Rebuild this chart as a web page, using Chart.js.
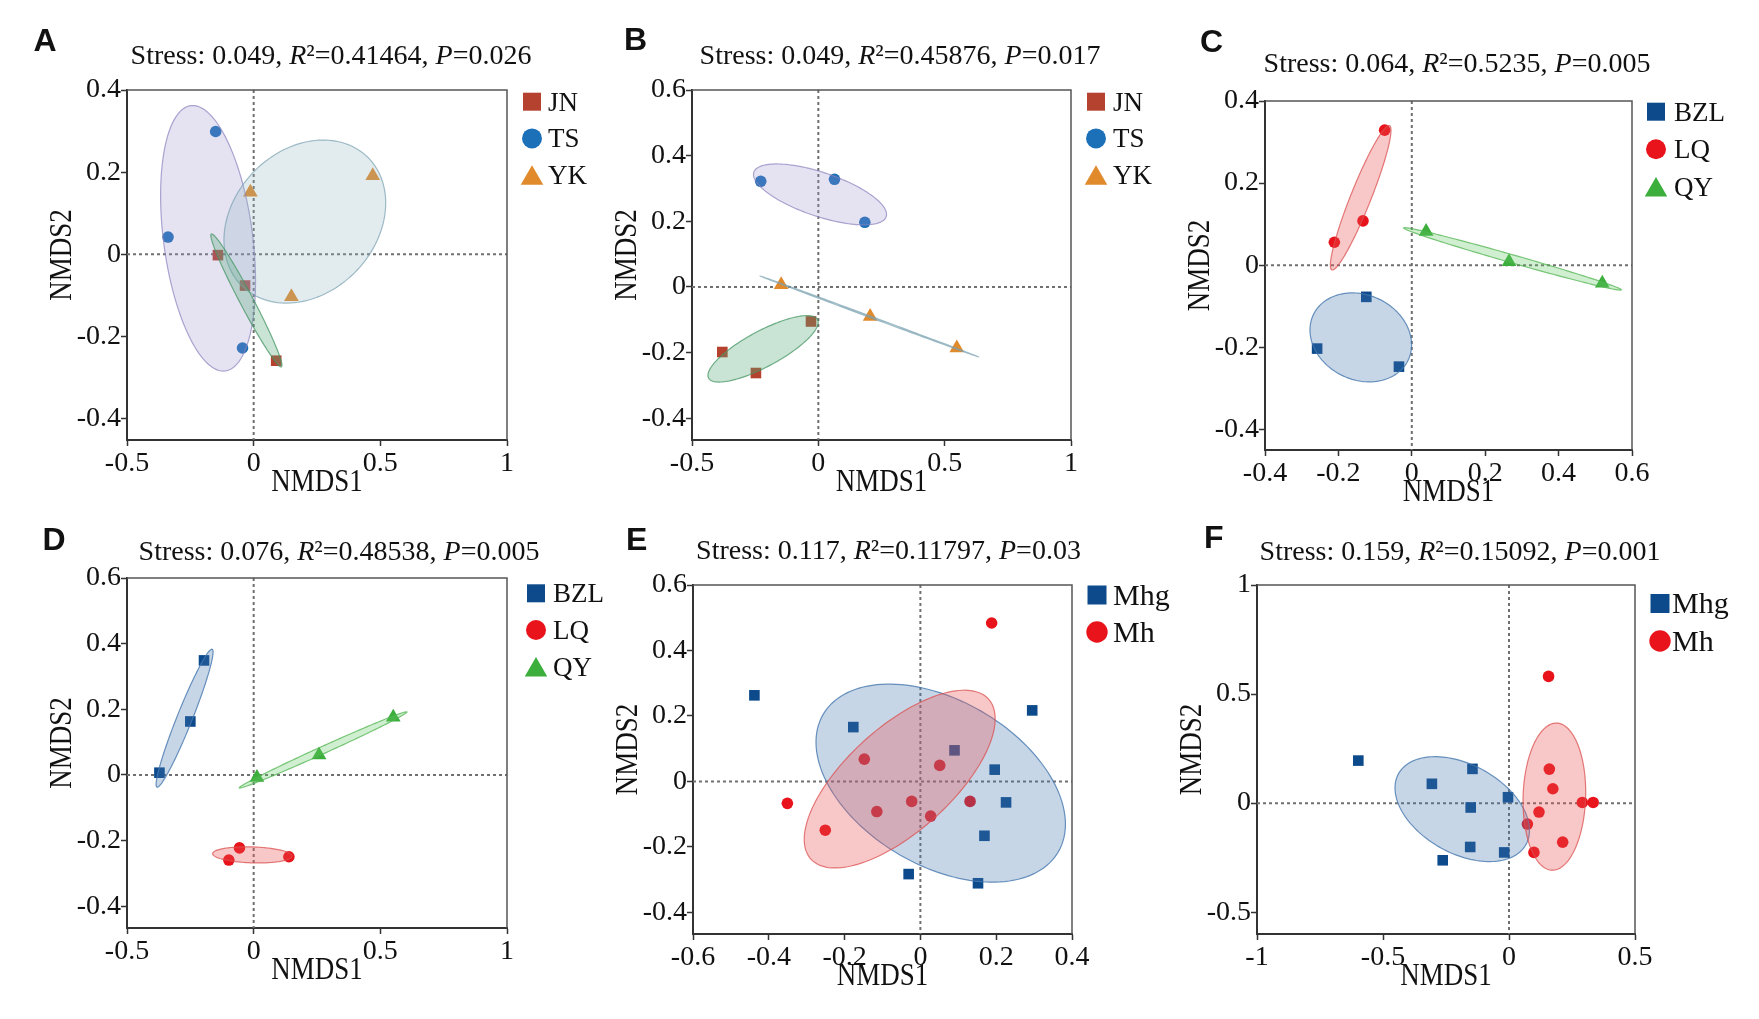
<!DOCTYPE html>
<html>
<head>
<meta charset="utf-8">
<script src="https://cdn.jsdelivr.net/npm/chart.js@4.4.1/dist/chart.umd.min.js"></script>
<style>
  html, body { margin: 0; padding: 0; background: #fff; width: 1759px; height: 1019px; overflow: hidden; position: relative; }
</style>
</head>
<body>
<script>
// ---- groups ----
const groupsAB = ['JN', 'TS', 'YK'];
const groupsCD = ['BZL', 'LQ', 'QY'];
const groupsEF = ['Mhg', 'Mh'];

// ---- sample scores [NMDS1, NMDS2] ----
const ptsA_JN = [[-0.141, -0.002], [-0.034, -0.076], [0.089, -0.259]];
const ptsA_TS = [[-0.150, 0.299], [-0.338, 0.042], [-0.044, -0.228]];
const ptsA_YK = [[-0.013, 0.151], [0.470, 0.191], [0.149, -0.103]];

const ptsB_JN = [[-0.029, -0.105], [-0.380, -0.198], [-0.247, -0.262]];
const ptsB_TS = [[-0.228, 0.322], [0.064, 0.328], [0.184, 0.197]];
const ptsB_YK = [[-0.147, 0.007], [0.205, -0.090], [0.548, -0.186]];

const ptsC_BZL = [[-0.124, -0.077], [-0.258, -0.203], [-0.035, -0.247]];
const ptsC_LQ = [[-0.074, 0.329], [-0.133, 0.108], [-0.211, 0.056]];
const ptsC_QY = [[0.039, 0.082], [0.265, 0.0085], [0.519, -0.044]];

const ptsD_BZL = [[-0.196, 0.349], [-0.250, 0.163], [-0.372, 0.007]];
const ptsD_LQ = [[-0.056, -0.222], [-0.098, -0.259], [0.139, -0.249]];
const ptsD_QY = [[0.013, -0.008], [0.258, 0.061], [0.551, 0.176]];

const ptsE_Mhg = [[-0.438, 0.263], [-0.177, 0.166], [0.090, 0.095], [0.295, 0.217], [0.196, 0.036],
                  [0.226, -0.064], [0.169, -0.166], [-0.031, -0.283], [0.152, -0.311]];
const ptsE_Mh = [[0.188, 0.484], [-0.351, -0.067], [-0.251, -0.149], [-0.148, 0.068], [-0.115, -0.092],
                 [-0.023, -0.061], [0.027, -0.106], [0.051, 0.049], [0.131, -0.061]];

const ptsF_Mhg = [[-0.598, 0.195], [-0.306, 0.0885], [-0.145, 0.157], [-0.004, 0.027], [-0.152, -0.020],
                  [-0.154, -0.201], [-0.019, -0.226], [-0.263, -0.262]];
const ptsF_Mh = [[0.157, 0.581], [0.160, 0.156], [0.174, 0.066], [0.291, 0.003], [0.334, 0.003],
                 [0.119, -0.041], [0.073, -0.096], [0.213, -0.179], [0.099, -0.226]];

// ---- group ellipses: centre, end of one axis, end of the other axis (data units) ----
const ellA_JN = [-0.0287, -0.1123, -0.167, 0.0495, -0.0047, -0.1054];
const ellA_TS = [-0.180, 0.039, -0.247, 0.362, -0.005, 0.051];
const ellA_YK = [0.202, 0.0797, 0.417, 0.253, 0.438, -0.017];

const ellB_JN = [-0.2187, -0.1883, -0.004, -0.098, -0.180, -0.234];
const ellB_TS = [0.0067, 0.282, 0.268, 0.213, 0.0395, 0.344];
const ellB_YK = [0.202, -0.0897, 0.631, -0.212, 0.203, -0.0878];

const ellC_BZL = [-0.139, -0.1757, -0.022, -0.248, -0.065, -0.095];
const ellC_LQ = [-0.1393, 0.1643, -0.061, 0.340, -0.113, 0.1565];
const ellC_QY = [0.2743, 0.0155, 0.571, -0.060, 0.278, 0.0248];

const ellD_BZL = [-0.2727, 0.173, -0.164, 0.383, -0.244, 0.166];
const ellD_LQ = [-0.005, -0.2433, 0.152, -0.247, -0.005, -0.219];
const ellD_QY = [0.274, 0.0763, 0.605, 0.192, 0.267, 0.086];

const ellE_Mhg = [0.0536, -0.0052, 0.354, -0.232, 0.188, 0.195];
const ellE_Mh = [-0.0546, 0.0072, 0.175, 0.257, 0.049, -0.099];

const ellF_Mhg = [-0.1855, -0.0275, 0.060, -0.203, -0.081, 0.137];
const ellF_Mh = [0.18, 0.0297, 0.189, 0.367, 0.304, 0.026];

// ---- statistics in the titles ----
const stressVals = ['0.049', '0.049', '0.064', '0.076', '0.117', '0.159'];
const r2Vals = ['0.41464', '0.45876', '0.5235', '0.48538', '0.11797', '0.15092'];
const pVals = ['0.026', '0.017', '0.005', '0.005', '0.03', '0.001'];

// ---- axes ----
const xRangeAB = [-0.5, 1];
const xTicksAB = [-0.5, 0, 0.5, 1];
const yRangeA = [-0.452, 0.4];
const yTicksA = [-0.4, -0.2, 0, 0.2, 0.4];
const yRangeB = [-0.466, 0.6];
const yTicksB = [-0.4, -0.2, 0, 0.2, 0.4, 0.6];
const xRangeC = [-0.4, 0.6];
const xTicksC = [-0.4, -0.2, 0, 0.2, 0.4, 0.6];
const yRangeC = [-0.45, 0.4];
const yTicksC = [-0.4, -0.2, 0, 0.2, 0.4];
const yRangeD = [-0.466, 0.6];
const yTicksD = [-0.4, -0.2, 0, 0.2, 0.4, 0.6];
const xRangeE = [-0.6, 0.4];
const xTicksE = [-0.6, -0.4, -0.2, 0, 0.2, 0.4];
const yRangeE = [-0.466, 0.6];
const yTicksE = [-0.4, -0.2, 0, 0.2, 0.4, 0.6];
const xRangeF = [-1, 0.5];
const xTicksF = [-1, -0.5, 0, 0.5];
const yRangeF = [-0.6, 1];
const yTicksF = [-0.5, 0, 0.5, 1];

// styles per group
const styles = {
  JN:  { shape: 'rect',     color: '#B5412F', fill: 'rgba(88,170,120,0.32)',  line: 'rgba(70,150,100,0.75)' },
  TS:  { shape: 'circle',   color: '#1B70B7', fill: 'rgba(150,140,205,0.25)', line: 'rgba(140,130,190,0.7)' },
  YK:  { shape: 'triangle', color: '#E08A2C', fill: 'rgba(140,178,190,0.25)', line: 'rgba(120,160,175,0.7)' },
  BZL: { shape: 'rect',     color: '#0C4A8B', fill: 'rgba(70,120,175,0.3)',   line: 'rgba(70,120,175,0.8)' },
  LQ:  { shape: 'circle',   color: '#E8131B', fill: 'rgba(232,85,85,0.32)',   line: 'rgba(220,80,80,0.75)' },
  QY:  { shape: 'triangle', color: '#3BAE3C', fill: 'rgba(100,200,100,0.3)',  line: 'rgba(80,180,80,0.75)' },
  Mhg: { shape: 'rect',     color: '#0C4A8B', fill: 'rgba(70,120,175,0.3)',   line: 'rgba(70,120,175,0.8)' },
  Mh:  { shape: 'circle',   color: '#E8131B', fill: 'rgba(232,85,85,0.32)',   line: 'rgba(220,80,80,0.75)' }
};
const pointSize = { rect: 7.5, circle: 5.8, triangle: 8.5 };

// panel layout (page pixels): plot area, title centre/baseline, letter, legend
const panels = [
  { key: 'A', area: [127, 90, 507, 440], xr: xRangeAB, yr: yRangeA, xt: xTicksAB, yt: yTicksA, groups: groupsAB,
    pts: [ptsA_JN, ptsA_TS, ptsA_YK], ells: [['TS', ellA_TS], ['YK', ellA_YK], ['JN', ellA_JN]],
    title: [331, 64], letter: [33.5, 50.5], leg: [532, 548, 101.7, 36.7, 27] },
  { key: 'B', area: [692, 90, 1071, 440], xr: xRangeAB, yr: yRangeB, xt: xTicksAB, yt: yTicksB, groups: groupsAB,
    pts: [ptsB_JN, ptsB_TS, ptsB_YK], ells: [['TS', ellB_TS], ['YK', ellB_YK], ['JN', ellB_JN]],
    title: [900, 64], letter: [624, 50], leg: [1096, 1113, 101.7, 36.7, 27] },
  { key: 'C', area: [1265, 101, 1632, 450], xr: xRangeC, yr: yRangeC, xt: xTicksC, yt: yTicksC, groups: groupsCD,
    pts: [ptsC_BZL, ptsC_LQ, ptsC_QY], ells: [['BZL', ellC_BZL], ['LQ', ellC_LQ], ['QY', ellC_QY]],
    title: [1457, 72], letter: [1200, 52], leg: [1656, 1674, 111.7, 37.5, 27] },
  { key: 'D', area: [127, 578, 507, 928], xr: xRangeAB, yr: yRangeD, xt: xTicksAB, yt: yTicksD, groups: groupsCD,
    pts: [ptsD_BZL, ptsD_LQ, ptsD_QY], ells: [['BZL', ellD_BZL], ['LQ', ellD_LQ], ['QY', ellD_QY]],
    title: [339, 560], letter: [42.5, 550], leg: [536, 553, 593.3, 36.7, 27] },
  { key: 'E', area: [693, 585, 1072, 934], xr: xRangeE, yr: yRangeE, xt: xTicksE, yt: yTicksE, groups: groupsEF,
    pts: [ptsE_Mhg, ptsE_Mh], ells: [['Mhg', ellE_Mhg], ['Mh', ellE_Mh]],
    title: [888.5, 559], letter: [626, 550], leg: [1097, 1113, 595, 37, 30] },
  { key: 'F', area: [1257, 585, 1635, 934], xr: xRangeF, yr: yRangeF, xt: xTicksF, yt: yTicksF, groups: groupsEF,
    pts: [ptsF_Mhg, ptsF_Mh], ells: [['Mhg', ellF_Mhg], ['Mh', ellF_Mh]],
    title: [1460, 560], letter: [1204, 548], leg: [1660, 1672, 603.5, 37.5, 30] }
];

const SERIF = '"Liberation Serif", "Times New Roman", serif';
Chart.defaults.font.family = SERIF;
Chart.defaults.color = '#111';

function fmt(v) { return String(Math.round(v * 10) / 10); }

function drawMarker(ctx, shape, x, y, r, color) {
  ctx.fillStyle = color;
  ctx.beginPath();
  if (shape === 'rect') {
    const s = r * Math.SQRT1_2;
    ctx.rect(x - s, y - s, 2 * s, 2 * s);
  } else if (shape === 'circle') {
    ctx.arc(x, y, r, 0, Math.PI * 2);
  } else {
    const k = Math.sin(Math.PI * 2 / 3);
    ctx.moveTo(x, y - r);
    ctx.lineTo(x + r * k, y + r / 2);
    ctx.lineTo(x - r * k, y + r / 2);
    ctx.closePath();
  }
  ctx.fill();
}

function drawEllipse(ctx, xs, ys, e, st) {
  const cx = xs.getPixelForValue(e[0]), cy = ys.getPixelForValue(e[1]);
  const ax = xs.getPixelForValue(e[2]) - cx, ay = ys.getPixelForValue(e[3]) - cy;
  const bx = xs.getPixelForValue(e[4]) - cx, by = ys.getPixelForValue(e[5]) - cy;
  ctx.beginPath();
  for (let i = 0; i <= 144; i++) {
    const t = i / 144 * Math.PI * 2;
    const px = cx + Math.cos(t) * ax + Math.sin(t) * bx;
    const py = cy + Math.cos(t) * ay + Math.sin(t) * by;
    if (i === 0) ctx.moveTo(px, py); else ctx.lineTo(px, py);
  }
  ctx.closePath();
  ctx.fillStyle = st.fill;
  ctx.fill();
  ctx.strokeStyle = st.line;
  ctx.lineWidth = 1.2;
  ctx.stroke();
}

function drawTitle(ctx, cx, base, idx) {
  const size = 28;
  const parts = [
    ['Stress: ' + stressVals[idx] + ', ', 'normal'],
    ['R', 'italic'],
    ['\u00B2', 'normal'],
    ['=' + r2Vals[idx] + ', ', 'normal'],
    ['P', 'italic'],
    ['=' + pVals[idx], 'normal']
  ];
  let total = 0;
  parts.forEach(pt => {
    ctx.font = pt[1] + ' ' + size + 'px ' + SERIF;
    pt.w = ctx.measureText(pt[0]).width;
    total += pt.w;
  });
  let x = cx - total / 2;
  ctx.fillStyle = '#111';
  ctx.textAlign = 'left';
  ctx.textBaseline = 'alphabetic';
  parts.forEach(pt => {
    ctx.font = pt[1] + ' ' + size + 'px ' + SERIF;
    ctx.fillText(pt[0], x, base);
    x += pt.w;
  });
}

const figPlugin = {
  id: 'fig',
  beforeDatasetsDraw(chart, args, o) {
    const { ctx, chartArea: a, scales: { x, y } } = chart;
    const x0 = x.getPixelForValue(0), y0 = y.getPixelForValue(0);
    ctx.save();
    ctx.strokeStyle = '#707070';
    ctx.lineWidth = 2;
    ctx.setLineDash([3, 3]);
    ctx.beginPath();
    ctx.moveTo(x0, a.top); ctx.lineTo(x0, a.bottom);
    ctx.moveTo(a.left, y0); ctx.lineTo(a.right, y0);
    ctx.stroke();
    ctx.restore();
  },
  afterDatasetsDraw(chart, args, o) {
    const { ctx, chartArea: a, scales: { x, y } } = chart;
    const p = o.panel;
    ctx.save();
    p.ells.forEach(([g, e]) => drawEllipse(ctx, x, y, e, styles[g]));
    // top and right frame
    ctx.strokeStyle = '#555';
    ctx.lineWidth = 1.5;
    ctx.beginPath();
    ctx.moveTo(a.left, a.top); ctx.lineTo(a.right, a.top); ctx.lineTo(a.right, a.bottom);
    ctx.stroke();
    ctx.restore();
  },
  afterDraw(chart, args, o) {
    const { ctx, chartArea: a } = chart;
    const p = o.panel, ox = o.ox, oy = o.oy;
    ctx.save();
    // panel letter
    ctx.fillStyle = '#111';
    ctx.font = 'bold 32px "Liberation Sans", Arial, sans-serif';
    ctx.textAlign = 'left';
    ctx.textBaseline = 'alphabetic';
    ctx.fillText(p.key, p.letter[0] - ox, p.letter[1] - oy);
    // title
    drawTitle(ctx, p.title[0] - ox, p.title[1] - oy, o.idx);
    // axis titles
    ctx.fillStyle = '#111';
    ctx.font = '27px ' + SERIF;
    ctx.textAlign = 'center';
    ctx.textBaseline = 'alphabetic';
    ctx.save();
    ctx.translate((a.left + a.right) / 2, a.bottom + 51);
    ctx.scale(1, 1.2);
    ctx.fillText('NMDS1', 0, 0);
    ctx.restore();
    ctx.save();
    ctx.translate(a.left - 56, (a.top + a.bottom) / 2 - 10);
    ctx.rotate(-Math.PI / 2);
    ctx.scale(1, 1.2);
    ctx.fillText('NMDS2', 0, 0);
    ctx.restore();
    // legend
    const [mx, tx, y0, gap, fs] = p.leg;
    const big = fs > 28;
    p.groups.forEach((g, i) => {
      const st = styles[g];
      const cy = y0 + gap * i - oy;
      let r;
      if (st.shape === 'rect') r = (big ? 19 : 18) / 2 / Math.SQRT1_2;
      else if (st.shape === 'circle') r = big ? 10.7 : 10;
      else r = 13;
      const yy = st.shape === 'triangle' ? cy + r / 4 : cy;
      drawMarker(ctx, st.shape, mx - ox, yy, r, st.color);
      ctx.fillStyle = '#111';
      ctx.font = fs + 'px ' + SERIF;
      ctx.textAlign = 'left';
      ctx.textBaseline = 'alphabetic';
      ctx.fillText(g, tx - ox, cy + 0.331 * fs);
    });
    ctx.restore();
  }
};

function axis(range, ticks, which) {
  return {
    type: 'linear',
    position: which === 'x' ? 'bottom' : 'left',
    min: range[0],
    max: range[1],
    afterBuildTicks: s => { s.ticks = ticks.map(v => ({ value: v })); },
    afterFit: s => { if (which === 'x') s.height = 80; else s.width = 100; },
    ticks: {
      font: { family: 'Liberation Serif', size: 28 },
      color: '#111', padding: which === 'x' ? 1 : 0, maxRotation: 0, autoSkip: false,
      callback: v => fmt(v)
    },
    grid: { display: true, drawOnChartArea: false, drawTicks: true, tickLength: 6, tickWidth: 1.5, tickColor: '#333' },
    border: { display: true, color: '#333', width: 2 }
  };
}

panels.forEach((p, idx) => {
  const [L, T, R, B] = p.area;
  const ox = L - 127, oy = T - 90;
  const w = 127 + (R - L) + 130, h = 90 + (B - T) + 80;
  const cv = document.createElement('canvas');
  cv.width = w; cv.height = h;
  cv.style.cssText = `position:absolute;left:${ox}px;top:${oy}px;width:${w}px;height:${h}px;`;
  document.body.appendChild(cv);

  const datasets = p.groups.map((g, i) => ({
    label: g,
    data: p.pts[i].map(([vx, vy]) => ({ x: vx, y: vy })),
    pointStyle: styles[g].shape,
    pointRadius: pointSize[styles[g].shape],
    backgroundColor: styles[g].color,
    borderColor: styles[g].color,
    borderWidth: 0,
    clip: false
  }));

  new Chart(cv, {
    type: 'scatter',
    data: { datasets },
    options: {
      responsive: false,
      animation: false,
      events: [],
      layout: { padding: { left: 27, top: 90, right: 130, bottom: 0 } },
      scales: { x: axis(p.xr, p.xt, 'x'), y: axis(p.yr, p.yt, 'y') },
      plugins: {
        legend: { display: false },
        tooltip: { enabled: false },
        fig: { panel: p, ox, oy, idx }
      }
    },
    plugins: [figPlugin]
  });
});
</script>
</body>
</html>
